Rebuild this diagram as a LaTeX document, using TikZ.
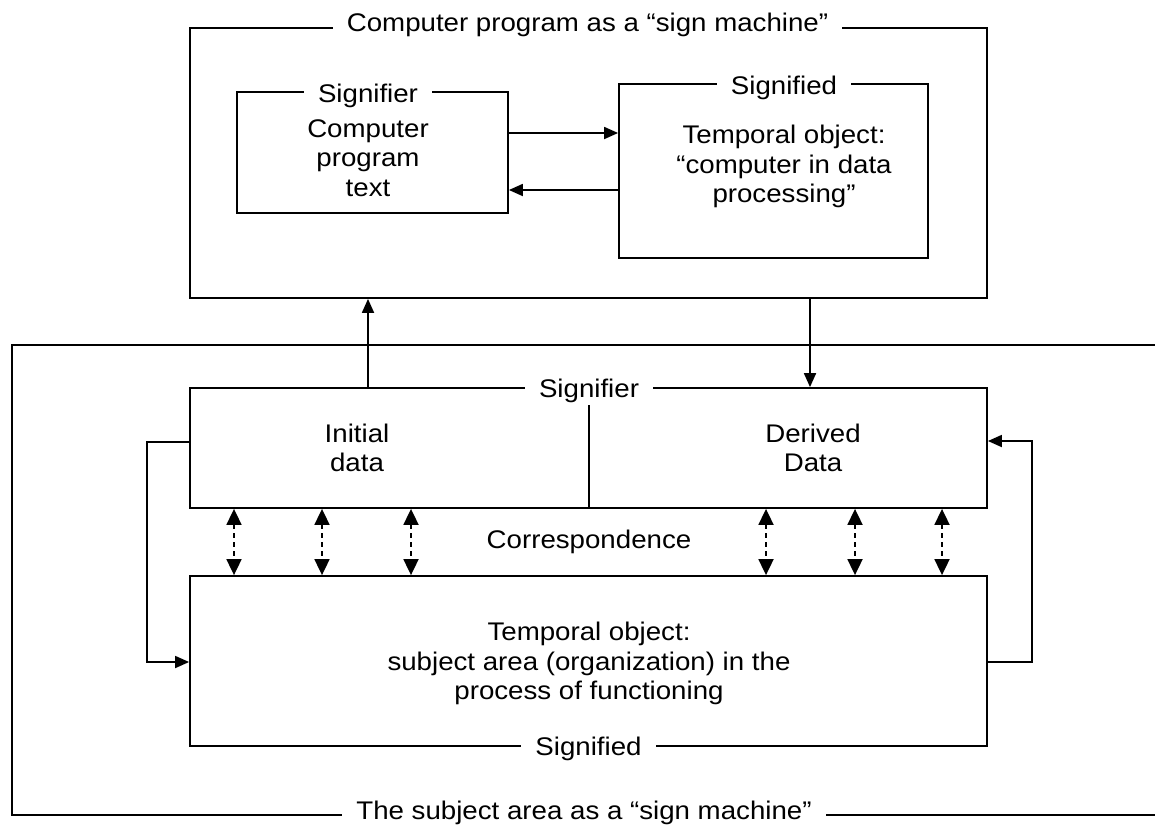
\documentclass[tikz,border=0pt]{standalone}
\usepackage{fontspec}
\setmainfont{Liberation Sans}[FakeStretch=1.085]
\usetikzlibrary{arrows.meta}
\begin{document}
\begin{tikzpicture}[x=1pt,y=-1pt,
  line width=1.8pt,
  every node/.style={font=\fontsize{25.5}{29.5}\selectfont, align=center, inner sep=0pt},
  box/.style={draw, line width=1.8pt, minimum width=#1},
  tag/.style={fill=white, inner xsep=14pt, inner ysep=3pt, anchor=base},
  arr/.style={-{Triangle[length=14pt,width=12pt]}},
  dbl/.style={{Triangle[length=16pt,width=15pt]}-{Triangle[length=16pt,width=15pt]}, dash pattern=on 5pt off 4pt},
  txt/.style={}]
\useasboundingbox (0,0) rectangle (1155,825);

% upper sign machine
\node[box=797pt, minimum height=270pt] (top) at (588.5,163) {};
\node[box=271pt, minimum height=121pt] (sr) at (372.5,152.5) {};
\node[box=309pt, minimum height=174pt] (sd) at (773.5,171) {};
\node[tag] (toptag) at (587.5,31) {Computer program as a “sign machine”};
\node[tag] (srtag) at (368,102) {Signifier};
\node[tag] (sdtag) at (784,94) {Signified};
\node[txt] (srtxt) at (368,158) {Computer\\program\\text};
\node[txt] (sdtxt) at (784,166.5) {Temporal object:\\“computer in data\\processing”};

\coordinate (ya) at (0,133);
\coordinate (yb) at (0,190);
\draw[arr] (sr.east |- ya) -- (sd.west |- ya);
\draw[arr] (sd.west |- yb) -- (sr.east |- yb);

% lower sign machine
\coordinate (otl) at (12,345);
\coordinate (otr) at (1155,345);
\coordinate (obl) at (12,815);
\coordinate (obr) at (1155,815);
\draw (otr) -- (otl) -- (obl) -- (obr);
\node[tag] (bottag) at (584,819) {The subject area as a “sign machine”};

\node[box=797pt, minimum height=120pt] (sig) at (588.5,448) {};
\node[box=797pt, minimum height=170pt] (obj) at (588.5,661) {};
\coordinate (div) at (589,403);
\draw (div) -- (sig.south -| div);
\node[tag] (sigtag) at (589,397) {Signifier};
\node[tag] (objtag) at (588.5,755) {Signified};
\node[txt] (init) at (357,448) {Initial\\data};
\node[txt] (der) at (813,448) {Derived\\Data};
\node[txt] (corr) at (589,542) {Correspondence};
\node[txt] (objtxt) at (589,663.5) {Temporal object:\\subject area (organization) in the\\process of functioning};

% links between the two machines
\coordinate (up) at (368,0);
\coordinate (down) at (810,0);
\draw[arr] (sig.north -| up) -- (top.south -| up);
\draw[arr] (top.south -| down) -- (sig.north -| down);

% feedback loops
\coordinate (ll) at (147,442);
\coordinate (lb) at (147,662);
\draw[arr] (sig.west |- ll) -- (ll) -- (lb) -- (obj.west |- lb);
\coordinate (rb) at (1032,662);
\coordinate (rt) at (1032,441);
\draw[arr] (obj.east |- rb) -- (rb) -- (rt) -- (sig.east |- rt);

% correspondence arrows
\foreach \x [count=\i] in {234,322,411,766,855,942} {
  \coordinate (c\i) at (\x,0);
  \draw[dbl] (sig.south -| c\i) -- (obj.north -| c\i);
}
\end{tikzpicture}
\end{document}
